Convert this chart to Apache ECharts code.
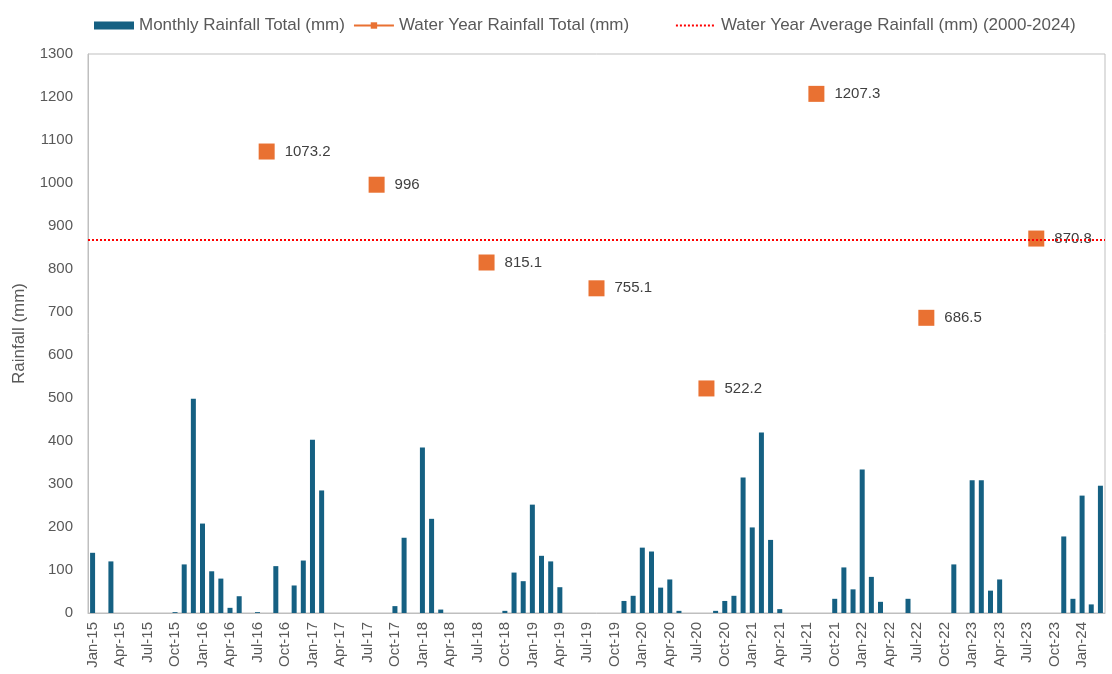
<!DOCTYPE html>
<html>
<head>
<meta charset="utf-8">
<script src="https://cdn.jsdelivr.net/npm/echarts@6/dist/echarts.min.js"></script>
<style>
  html, body { margin: 0; padding: 0; background: #fff; }
  #chart { width: 1112px; height: 674px; }
</style>
</head>
<body>
<div id="chart"></div>
<script>
// month labels Jan-15 .. Mar-24
const monthNames = ['Jan', 'Feb', 'Mar', 'Apr', 'May', 'Jun', 'Jul', 'Aug', 'Sep', 'Oct', 'Nov', 'Dec'];
const years = [15, 16, 17, 18, 19, 20, 21, 22, 23, 24];
const months = [];
years.forEach(y => monthNames.forEach((m, i) => {
  if (y === 24 && i > 2) return;
  months.push(m + '-' + y);
}));

// monthly rainfall (mm)
const monthlyRain = [
  140, 0, 120, 0, 0, 0, 0, 0, 0, 2, 113, 498,      // 2015
  208, 97, 80, 12, 39, 0, 2, 0, 109, 0, 64, 122,   // 2016
  403, 285, 0, 0, 0, 0, 0, 0, 0, 16, 175, 0,       // 2017
  385, 219, 8, 0, 0, 0, 0, 0, 0, 5, 94, 74,        // 2018
  252, 133, 120, 60, 0, 0, 0, 0, 0, 0, 28, 40,     // 2019
  152, 143, 59, 78, 5, 0, 0, 0, 5, 28, 40, 315,    // 2020
  199, 420, 170, 9, 0, 0, 0, 0, 0, 33, 106, 55,    // 2021
  334, 84, 26, 0, 0, 33, 0, 0, 0, 0, 113, 0,       // 2022
  309, 309, 52, 78, 0, 0, 0, 0, 0, 0, 178, 33,     // 2023
  273, 20, 296                                     // 2024
];

// water year totals, plotted at these months
const waterYearMonths = ['Aug-16', 'Aug-17', 'Aug-18', 'Aug-19', 'Aug-20', 'Aug-21', 'Aug-22', 'Aug-23'];
const waterYearTotals = [1073.2, 996, 815.1, 755.1, 522.2, 1207.3, 686.5, 870.8];

const averageRain = 867;

const waterYearData = months.map(m => {
  const i = waterYearMonths.indexOf(m);
  return i >= 0 ? waterYearTotals[i] : null;
});

const font = "'Liberation Sans', Arial, sans-serif";
const grey = '#595959';

const chart = echarts.init(document.getElementById('chart'));

const option = {
  animation: false,
  textStyle: { fontFamily: font },
  legend: {
    top: 12,
    left: 89,
    itemWidth: 40,
    itemHeight: 8,
    itemGap: 8,
    textStyle: { fontSize: 17, color: grey, fontFamily: font },
    // Excel leaves extra room after the second entry
    formatter: name => name === 'Water Year Rainfall Total (mm)' ? name + '\u00a0'.repeat(8) : name,
    data: [
      { name: 'Monthly Rainfall Total (mm)', icon: 'rect' },
      'Water Year Rainfall Total (mm)',
      { name: 'Water Year Average Rainfall (mm) (2000-2024)', itemStyle: { opacity: 0 } }
    ]
  },
  grid: {
    left: 88,
    right: 7,
    top: 54,
    bottom: 61,
    outerBoundsMode: 'none',
    show: true,
    borderColor: '#BFBFBF',
    borderWidth: 1
  },
  xAxis: {
    type: 'category',
    data: months,
    axisLine: { lineStyle: { color: '#BFBFBF' } },
    axisTick: { show: false },
    axisLabel: {
      interval: 2,
      rotate: 90,
      margin: 9,
      fontSize: 15,
      color: grey,
      fontFamily: font
    }
  },
  yAxis: {
    type: 'value',
    min: 0,
    max: 1300,
    interval: 100,
    name: 'Rainfall (mm)',
    nameLocation: 'middle',
    nameGap: 60,
    nameTextStyle: { fontSize: 17, color: grey, fontFamily: font },
    axisLine: { show: true, lineStyle: { color: '#BFBFBF' } },
    axisTick: { show: false },
    splitLine: { show: false },
    axisLabel: {
      fontSize: 15,
      color: grey,
      margin: 15,
      fontFamily: font,
      formatter: v => String(v)
    }
  },
  series: [
    {
      name: 'Monthly Rainfall Total (mm)',
      type: 'bar',
      data: monthlyRain,
      barWidth: 5,
      itemStyle: { color: '#156082' }
    },
    {
      name: 'Water Year Rainfall Total (mm)',
      type: 'line',
      data: waterYearData,
      connectNulls: false,
      showSymbol: true,
      showAllSymbol: true,
      symbol: 'rect',
      symbolSize: 16,
      lineStyle: { color: '#E97132', width: 2 },
      itemStyle: { color: '#E97132' },
      label: {
        show: true,
        position: 'right',
        distance: 10,
        fontSize: 15,
        color: '#404040',
        fontFamily: font
      },
      z: 3
    },
    {
      name: 'Water Year Average Rainfall (mm) (2000-2024)',
      type: 'line',
      data: [],
      symbol: 'none',
      lineStyle: { color: '#FF0000', type: 'dotted', width: 2 },
      itemStyle: { color: '#FF0000' },
      markLine: {
        silent: true,
        symbol: 'none',
        label: { show: false },
        lineStyle: { color: '#FF0000', type: 'dotted', width: 2 },
        data: [{ yAxis: averageRain }]
      },
      z: 4
    }
  ]
};

chart.setOption(option);
</script>
</body>
</html>
